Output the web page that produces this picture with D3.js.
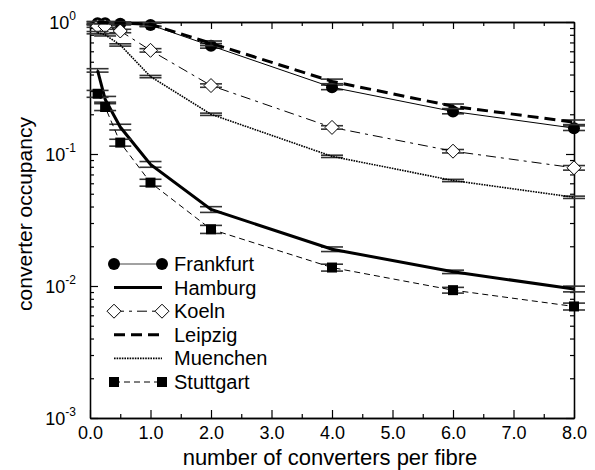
<!DOCTYPE html>
<html>
<head>
<meta charset="utf-8">
<script src="https://cdn.jsdelivr.net/npm/d3@7"></script>
<style>
  body { margin: 0; background: #fff; }
  text { font-family: "Liberation Sans", Arial, sans-serif; fill: #000; }
</style>
</head>
<body>
<svg width="595" height="470"></svg>
<script>
// number of converters per fibre
const converters = [0.125, 0.25, 0.5, 1, 2, 4, 6, 8];

// converter occupancy per city
const frankfurt = [0.98, 0.98, 0.97, 0.95, 0.66, 0.32, 0.21, 0.157];
const hamburg   = [0.43, 0.26, 0.16, 0.0835, 0.038, 0.019, 0.0128, 0.0095];
const koeln     = [0.93, 0.93, 0.855, 0.61, 0.33, 0.159, 0.105, 0.0786];
const leipzig   = [0.99, 0.99, 0.98, 0.96, 0.69, 0.355, 0.23, 0.174];
const muenchen  = [0.83, 0.8, 0.67, 0.386, 0.2, 0.096, 0.063, 0.047];
const stuttgart = [0.286, 0.227, 0.122, 0.0607, 0.0269, 0.0138, 0.0093, 0.007];

// relative error (half width of the confidence interval)
const errFrankfurt = [0.02, 0.02, 0.02, 0.03, 0.04, 0.04, 0.04, 0.04];
const errHamburg   = [0.03, 0.05, 0.05, 0.05, 0.05, 0.04, 0.03, 0.05];
const errKoeln     = [0.02, 0.02, 0.03, 0.03, 0.03, 0.03, 0.03, 0.04];
const errLeipzig   = [0.02, 0.02, 0.02, 0.03, 0.04, 0.04, 0.04, 0.04];
const errMuenchen  = [0.02, 0.02, 0.02, 0.02, 0.02, 0.02, 0.02, 0.02];
const errStuttgart = [0.06, 0.06, 0.06, 0.06, 0.07, 0.06, 0.05, 0.06];

const cities = ["Frankfurt", "Hamburg", "Koeln", "Leipzig", "Muenchen", "Stuttgart"];

const xTicks = [0, 1, 2, 3, 4, 5, 6, 7, 8];
const xMinor = [0.5, 1.5, 2.5, 3.5, 4.5, 5.5, 6.5, 7.5];
const yTicks = [1e-3, 1e-2, 1e-1, 1];

const series = [
    { name: "Frankfurt", values: frankfurt, err: errFrankfurt, width: 1, dash: null, marker: "circle" },
    { name: "Hamburg", values: hamburg, err: errHamburg, width: 3, dash: null, marker: null },
    { name: "Koeln", values: koeln, err: errKoeln, width: 1, dash: "10,5,3,5", marker: "diamond" },
    { name: "Leipzig", values: leipzig, err: errLeipzig, width: 3, dash: "11,6", marker: null },
    { name: "Muenchen", values: muenchen, err: errMuenchen, width: 1.6, dash: "1.6,1", marker: null },
    { name: "Stuttgart", values: stuttgart, err: errStuttgart, width: 1, dash: "6,4", marker: "square" }
];

const plotLeft = 90, plotRight = 574, plotTop = 22, plotBottom = 418;

const svg = d3.select("svg");

const x = d3.scaleLinear().domain([0, 8]).range([plotLeft, plotRight]);
const y = d3.scaleLog().domain([1e-3, 1]).range([plotBottom, plotTop]);

const yMinor = y.ticks().filter(v => !yTicks.some(t => Math.abs(t - v) / t < 1e-6));

// Axis frame
const axes = svg.append("g").attr("class", "axes");

// bottom: major ticks with labels, minor ticks inward
axes.append("g")
    .attr("transform", `translate(0,${plotBottom})`)
    .call(d3.axisBottom(x).tickValues(xTicks).tickSizeInner(-8).tickSizeOuter(0).tickPadding(8)
        .tickFormat(d3.format(".1f")))
    .call(g => g.selectAll("text").attr("font-size", 18).attr("font-family", "Liberation Sans, Arial, sans-serif"));
axes.append("g")
    .attr("transform", `translate(0,${plotBottom})`)
    .call(d3.axisBottom(x).tickValues(xMinor).tickSizeInner(-4).tickSizeOuter(0).tickFormat(""));

// top: mirror ticks
axes.append("g")
    .attr("transform", `translate(0,${plotTop})`)
    .call(d3.axisTop(x).tickValues(xTicks).tickSizeInner(-7).tickSizeOuter(0).tickFormat(""));
axes.append("g")
    .attr("transform", `translate(0,${plotTop})`)
    .call(d3.axisTop(x).tickValues(xMinor).tickSizeInner(-4).tickSizeOuter(0).tickFormat(""));

// left
axes.append("g")
    .attr("transform", `translate(${plotLeft},0)`)
    .call(d3.axisLeft(y).tickValues(yTicks).tickSizeInner(-8).tickSizeOuter(0).tickFormat(""));
axes.append("g")
    .attr("transform", `translate(${plotLeft},0)`)
    .call(d3.axisLeft(y).tickValues(yMinor).tickSizeInner(-4).tickSizeOuter(0).tickFormat(""));

// right
axes.append("g")
    .attr("transform", `translate(${plotRight},0)`)
    .call(d3.axisRight(y).tickValues(yTicks).tickSizeInner(-8).tickSizeOuter(0).tickFormat(""));
axes.append("g")
    .attr("transform", `translate(${plotRight},0)`)
    .call(d3.axisRight(y).tickValues(yMinor).tickSizeInner(-4).tickSizeOuter(0).tickFormat(""));

axes.selectAll(".domain").attr("stroke", "#000").attr("stroke-width", 1.3);
axes.selectAll(".tick line").attr("stroke", "#000").attr("stroke-width", 1.2);

// y tick labels as 10 with superscript exponent
const yLab = svg.append("g");
yTicks.forEach(t => {
    const txt = yLab.append("text")
        .attr("x", 76)
        .attr("y", y(t) + 7)
        .attr("text-anchor", "end")
        .attr("font-size", 18);
    txt.append("tspan").text("10");
    txt.append("tspan")
        .attr("font-size", 12)
        .attr("dy", -9)
        .text(Math.round(Math.log10(t)));
});

// axis titles
svg.append("text")
    .attr("x", (plotLeft + plotRight) / 2 - 2)
    .attr("y", 465)
    .attr("text-anchor", "middle")
    .attr("font-size", 22)
    .text("number of converters per fibre");

svg.append("text")
    .attr("transform", `translate(32,214) rotate(-90)`)
    .attr("text-anchor", "middle")
    .attr("font-size", 21)
    .text("converter occupancy");

// Plot content
const content = svg.append("g").attr("id", "content");

const line = d3.line()
    .x(d => x(d.x))
    .y(d => y(d.y));

function drawMarker(g, type, cx, cy) {
    if (type === "circle") {
        g.append("circle").attr("cx", cx).attr("cy", cy).attr("r", 6).attr("fill", "#000");
    } else if (type === "square") {
        g.append("rect").attr("x", cx - 5).attr("y", cy - 5).attr("width", 10).attr("height", 10).attr("fill", "#000");
    } else if (type === "diamond") {
        g.append("path")
            .attr("d", `M${cx},${cy - 7}L${cx + 7},${cy}L${cx},${cy + 7}L${cx - 7},${cy}Z`)
            .attr("fill", "#fff").attr("stroke", "#000").attr("stroke-width", 1);
    }
}

series.forEach(s => {
    const pts = converters.map((c, i) => ({ x: c, y: s.values[i], e: s.err[i] }));
    const g = content.append("g").attr("class", "series");

    // error bars
    pts.forEach(p => {
        const cx = x(p.x);
        const hi = y(p.y * (1 + p.e)), lo = y(p.y * (1 - p.e));
        g.append("line").attr("x1", cx).attr("x2", cx).attr("y1", hi).attr("y2", lo)
            .attr("stroke", "#222").attr("stroke-width", 1);
        [hi, lo].forEach(yy => {
            g.append("line").attr("x1", cx - 11).attr("x2", cx + 11).attr("y1", yy).attr("y2", yy)
                .attr("stroke", "#333").attr("stroke-width", 1.6);
        });
    });

    g.append("path")
        .datum(pts)
        .attr("d", line)
        .attr("fill", "none")
        .attr("stroke", "#000")
        .attr("stroke-width", s.width)
        .attr("stroke-dasharray", s.dash);

    if (s.marker) pts.forEach(p => drawMarker(g, s.marker, x(p.x), y(p.y)));
});

// Legend
const legend = svg.append("g").attr("class", "legend");
const legY0 = 264, legStep = 23.6, lx1 = 114, lx2 = 162;
series.forEach((s, i) => {
    const ly = legY0 + i * legStep;
    legend.append("line")
        .attr("x1", lx1).attr("x2", lx2).attr("y1", ly).attr("y2", ly)
        .attr("stroke", s.marker === "circle" ? "#444" : "#000")
        .attr("stroke-width", s.width)
        .attr("stroke-dasharray", s.dash);
    if (s.marker) {
        drawMarker(legend, s.marker, lx1, ly);
        drawMarker(legend, s.marker, lx2, ly);
    }
    legend.append("text")
        .attr("x", 174)
        .attr("y", ly + 7)
        .attr("font-size", 20)
        .text(cities[i]);
});
</script>
</body>
</html>
